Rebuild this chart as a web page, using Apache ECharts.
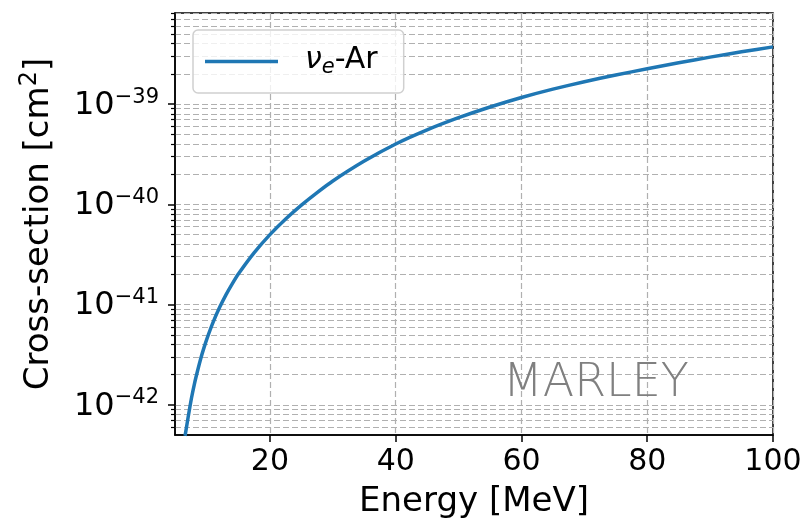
<!DOCTYPE html>
<html>
<head>
<meta charset="utf-8">
<script src="https://cdn.jsdelivr.net/npm/echarts@6/dist/echarts.min.js"></script>
<style>html,body{margin:0;padding:0;background:#fff}#c{width:810px;height:525px}</style>
</head>
<body>
<div id="c"></div>
<script>
// Data
var energy = [6.5, 7.0, 7.5, 8.0, 8.5, 9.0, 9.5, 10, 11, 12, 13, 14, 15, 17.5, 20, 22.5, 25, 27.5, 30, 35, 40, 45, 50, 55, 60, 65, 70, 75, 80, 85, 90, 95, 100];
var sigma = [4.9e-43, 7.59e-43, 1.15e-42, 1.63e-42, 2.20e-42, 2.90e-42, 3.70e-42, 4.61e-42, 6.76e-42, 9.38e-42, 1.25e-41, 1.61e-41, 2.03e-41, 3.30e-41, 4.99e-41, 7.14e-41, 9.82e-41, 1.31e-40, 1.71e-40, 2.70e-40, 4.00e-40, 5.53e-40, 7.31e-40, 9.35e-40, 1.164e-39, 1.41e-39, 1.67e-39, 1.95e-39, 2.25e-39, 2.58e-39, 2.94e-39, 3.32e-39, 3.72e-39];
var xTicks = [20, 40, 60, 80, 100];
var yDecades = [-43, -42, -41, -40, -39];
var minorMultipliers = [2, 3, 4, 5, 6, 7, 8, 9];
var yMin = 5e-43, yMax = 8.1e-39;
var xMin = 4.9, xMax = 100;

var minorVals = [];
yDecades.forEach(function (d) {
  minorMultipliers.forEach(function (m) {
    var v = m * Math.pow(10, d);
    if (v > yMin * 1.001 && v < yMax) minorVals.push(v);
  });
});
var minorLogVals = minorVals.map(function (v) { return Math.log10(v); });

var seriesData = energy.map(function (e, i) { return [e, sigma[i]]; });
var FONT = 'DejaVu Sans';
var gridStyle = { color: '#b0b0b0', width: 1.2, type: [6, 3] };

var chart = echarts.init(document.getElementById('c'));
chart.setOption({
  animation: false,
  backgroundColor: '#fff',
  textStyle: { fontFamily: FONT },
  grid: { left: 175, right: 37, top: 13, bottom: 90, show: true, borderColor: '#000', borderWidth: 1.5, containLabel: false },
  legend: {
    left: 193, top: 30,
    padding: [15, 26, 15, 12],
    borderColor: '#d0d0d0', borderWidth: 1.5, borderRadius: 5,
    backgroundColor: 'rgba(255,255,255,0.8)',
    icon: 'rect',
    itemWidth: 73, itemHeight: 3.5,
    data: [{ name: 'nue' }],
    formatter: function () { return '{i|ν}{s|e}{t|-Ar}'; },
    textStyle: {
      padding: [0, 0, 0, 22],
      rich: {
        i: { fontFamily: FONT, fontSize: 30, fontStyle: 'italic', color: '#000', verticalAlign: 'bottom', padding: [0, 0, 3, 0] },
        s: { fontFamily: FONT, fontSize: 21, fontStyle: 'italic', color: '#000', verticalAlign: 'bottom' },
        t: { fontFamily: FONT, fontSize: 30, color: '#000', verticalAlign: 'bottom', padding: [0, 0, 3, 0] }
      }
    }
  },
  xAxis: {
    type: 'value', min: xMin, max: xMax,
    name: 'Energy [MeV]', nameLocation: 'middle', nameGap: 50,
    nameTextStyle: { fontFamily: FONT, fontSize: 34, color: '#000' },
    axisLine: { show: true, lineStyle: { color: '#000', width: 1.5 } },
    axisTick: { show: true, length: 7, lineStyle: { color: '#000', width: 1.5 }, customValues: xTicks },
    axisLabel: { show: true, customValues: xTicks, fontFamily: FONT, fontSize: 30, color: '#000', margin: 12 },
    splitLine: { show: true, lineStyle: gridStyle }
  },
  yAxis: [{
    type: 'log', logBase: 10, min: yMin, max: yMax,
    name: '{t|Cross-section [cm}{s|2}{t|]}', nameLocation: 'middle', nameGap: 119,
    nameTextStyle: {
      rich: {
        t: { fontFamily: FONT, fontSize: 34, color: '#000', verticalAlign: 'bottom' },
        s: { fontFamily: FONT, fontSize: 24, color: '#000', verticalAlign: 'bottom', padding: [0, 0, 14, 0] }
      }
    },
    axisLine: { show: true, lineStyle: { color: '#000', width: 1.5 } },
    axisTick: { show: true, length: 7, lineStyle: { color: '#000', width: 1.5 } },
    axisLabel: {
      showMinLabel: false, showMaxLabel: false, margin: 16,
      formatter: function (v) {
        var ex = Math.round(Math.log10(v));
        return '{b|10}{s|−' + Math.abs(ex) + '}';
      },
      rich: {
        b: { fontFamily: FONT, fontSize: 32, color: '#000', verticalAlign: 'bottom' },
        s: { fontFamily: FONT, fontSize: 21, color: '#000', verticalAlign: 'bottom', padding: [0, 0, 14, 0] }
      }
    },
    splitLine: { show: true, lineStyle: gridStyle }
  }, {
    // same mapping expressed in log10 units, used for the minor ticks / minor grid
    type: 'value', min: Math.log10(yMin), max: Math.log10(yMax), position: 'left',
    axisLine: { show: false },
    axisTick: { show: true, length: 4, lineStyle: { color: '#000', width: 1.2 }, customValues: minorLogVals },
    axisLabel: { show: false, customValues: minorLogVals },
    splitLine: { show: true, lineStyle: gridStyle }
  }],
  series: [{
    name: 'nue', type: 'line', yAxisIndex: 0,
    data: seriesData, symbol: 'none', smooth: 0.2, clip: true,
    lineStyle: { color: '#1f77b4', width: 3.5 },
    itemStyle: { color: '#1f77b4' },
    z: 5
  }],
  graphic: [{
    type: 'text', left: 503, top: 361, z: 10,
    style: { text: 'MARLEY', fontFamily: FONT, fontWeight: 200, fontSize: 46, fill: '#808080' }
  }]
});
</script>
</body>
</html>
